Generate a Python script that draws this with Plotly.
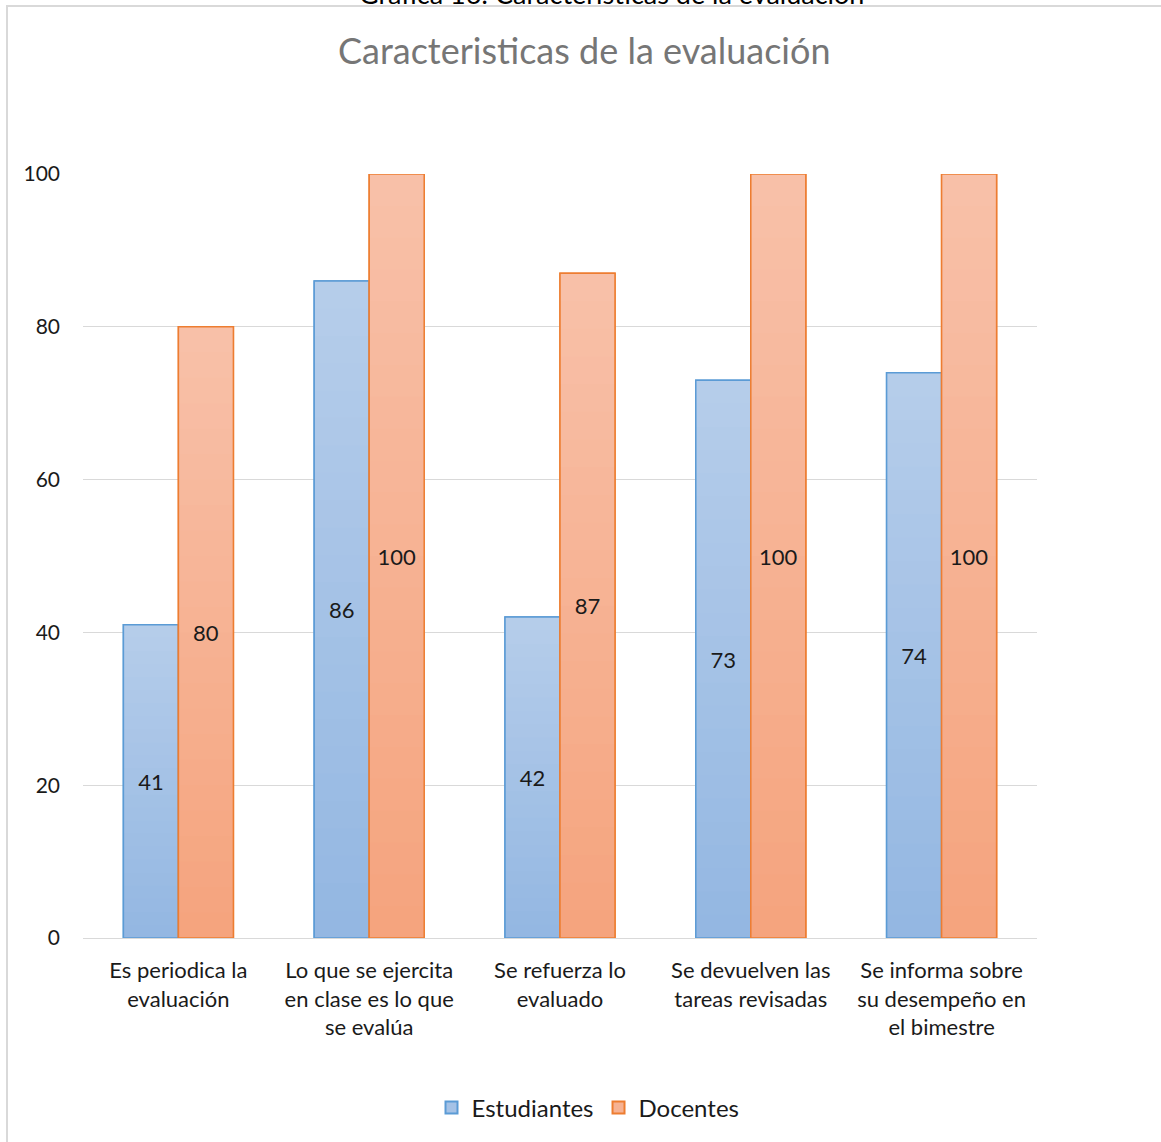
import plotly.graph_objects as go

# Survey results: share of respondents (%) per evaluation characteristic
categories = [
    "Es periodica la<br>evaluación",
    "Lo que se ejercita<br>en clase es lo que<br>se evalúa",
    "Se refuerza lo<br>evaluado",
    "Se devuelven las<br>tareas revisadas",
    "Se informa sobre<br>su desempeño en<br>el bimestre",
]
estudiantes = [41, 86, 42, 73, 74]
docentes = [80, 100, 87, 100, 100]
y_ticks = [0, 20, 40, 60, 80, 100]

FONT = "Lato"
W, H = 1161, 1142
ML, MR, MT, MB = 83, 124, 174, 204
PW, PH = W - ML - MR, H - MT - MB
BAR_W = 55 / (PW / len(categories))


def px_x(p):
    return (p - ML) / PW


def px_y(p):
    return (H - MB - p) / PH


def lerp(c1, c2, t):
    a = [int(c1[i:i + 2], 16) for i in (1, 3, 5)]
    b = [int(c2[i:i + 2], 16) for i in (1, 3, 5)]
    return "rgb(%d,%d,%d)" % tuple(round(a[i] + (b[i] - a[i]) * t) for i in range(3))


series = [
    ("Estudiantes", estudiantes, -BAR_W, "#b5cdea", "#94b7e2", "#a5c2e6", "#5b9bd5"),
    ("Docentes", docentes, 0.0, "#f8c0a8", "#f5a47e", "#f6b293", "#ed7d31"),
]

fig = go.Figure()
N = 24
for name, vals, off, top_c, bot_c, mid_c, line_c in series:
    # base layer with border (also provides the legend swatch)
    fig.add_trace(go.Bar(
        x=categories, y=vals, name=name, offset=off, width=BAR_W,
        marker=dict(color=mid_c, line=dict(color=line_c, width=1.5)),
        hoverinfo="skip",
    ))
    # vertical gradient made of overlaid bands, light at the top of each bar
    for k in range(N):
        frac = (N - k) / N
        fig.add_trace(go.Bar(
            x=categories, y=[v * frac for v in vals], offset=off, width=BAR_W,
            marker=dict(color=lerp(top_c, bot_c, k / (N - 1)), line=dict(width=0)),
            showlegend=False, hoverinfo="skip",
        ))
    # outline and value label on top
    fig.add_trace(go.Bar(
        x=categories, y=vals, offset=off, width=BAR_W,
        marker=dict(color="rgba(0,0,0,0)", line=dict(color=line_c, width=1.5)),
        text=[str(v) for v in vals], textposition="inside",
        insidetextanchor="middle", textangle=0,
        textfont=dict(family=FONT, size=22, color="#1a1a1a"),
        showlegend=False, name=name,
    ))

# chart frame
fig.add_shape(type="rect", xref="paper", yref="paper",
              x0=px_x(7), x1=px_x(1200), y0=px_y(1200), y1=px_y(6),
              line=dict(color="#d9d9d9", width=2), fillcolor="rgba(0,0,0,0)",
              layer="below")

# caption above the chart frame
fig.add_annotation(text="Gráfica 16: Características de la evaluación",
                   xref="paper", yref="paper", x=px_x(611), y=px_y(-7),
                   xanchor="center", yanchor="middle", showarrow=False,
                   font=dict(family=FONT, size=27, color="#000000"))

# chart title
fig.add_annotation(text="Caracteristicas de la evaluación",
                   xref="paper", yref="paper", x=px_x(584), y=px_y(50),
                   xanchor="center", yanchor="middle", showarrow=False,
                   font=dict(family=FONT, size=36, color="#767676"))

fig.update_layout(
    width=W, height=H,
    margin=dict(l=ML, r=MR, t=MT, b=MB),
    barmode="overlay",
    plot_bgcolor="white", paper_bgcolor="white",
    font=dict(family=FONT, size=22, color="#1a1a1a"),
    showlegend=True,
    legend=dict(orientation="h", xref="paper", yref="paper",
                x=px_x(588), y=px_y(1108), xanchor="center", yanchor="middle",
                font=dict(family=FONT, size=24, color="#1a1a1a"),
                itemsizing="constant", traceorder="normal"),
    xaxis=dict(type="category", showgrid=False, showline=False, ticks="",
               ticklabelstandoff=17,
               tickfont=dict(family=FONT, size=22, color="#1a1a1a"),
               zeroline=False),
    yaxis=dict(range=[0, 100], tickvals=y_ticks, showgrid=True,
               gridcolor="#d9d9d9", gridwidth=1, zeroline=True,
               zerolinecolor="#d9d9d9", zerolinewidth=1, showline=False,
               ticks="", ticklabelstandoff=22,
               tickfont=dict(family=FONT, size=21, color="#1a1a1a")),
)

fig.write_html("out.html")
